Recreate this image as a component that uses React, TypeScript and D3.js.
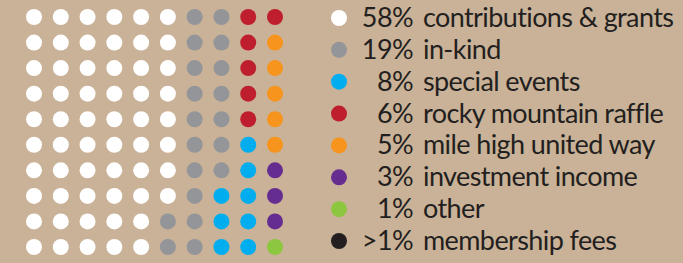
import React, { useEffect, useRef } from 'react';
import * as d3 from 'd3';

// legend entries, in legend order
const categories = ['contributions', 'inkind', 'events', 'raffle', 'unitedway', 'investment', 'other', 'membership'];
const percents = ['58%', '19%', '8%', '6%', '5%', '3%', '1%', '>1%'];
const names = ['contributions & grants', 'in-kind', 'special events', 'rocky mountain raffle', 'mile high united way', 'investment income', 'other', 'membership fees'];
const colors = ['#ffffff', '#939598', '#00aeef', '#be1e2d', '#f7941d', '#662d91', '#8dc63f', '#231f20'];

// 10x10 waffle, each row lists category index per column
const grid = [
  [0, 0, 0, 0, 0, 0, 1, 1, 3, 3],
  [0, 0, 0, 0, 0, 0, 1, 1, 3, 4],
  [0, 0, 0, 0, 0, 0, 1, 1, 3, 4],
  [0, 0, 0, 0, 0, 0, 1, 1, 3, 4],
  [0, 0, 0, 0, 0, 0, 1, 1, 3, 4],
  [0, 0, 0, 0, 0, 0, 1, 1, 2, 4],
  [0, 0, 0, 0, 0, 0, 1, 1, 2, 5],
  [0, 0, 0, 0, 0, 0, 1, 2, 2, 5],
  [0, 0, 0, 0, 0, 1, 1, 2, 2, 5],
  [0, 0, 0, 0, 0, 1, 1, 2, 2, 6],
];

export default function App() {
  const svgRef = useRef<SVGSVGElement>(null);

  useEffect(() => {
    const W = 683, H = 263;
    const svg = d3.select(svgRef.current);
    svg.selectAll('*').remove();

    svg.append('rect').attr('width', W).attr('height', H).attr('fill', '#c9b297');

    const x = d3.scalePoint<number>().domain(d3.range(10)).range([34, 275]);
    const y = d3.scalePoint<number>().domain(d3.range(10)).range([17, 247]);
    const color = d3.scaleOrdinal<number, string>().domain(d3.range(categories.length)).range(colors);

    const cells = grid.flatMap((row, r) => row.map((c, col) => ({ r, col, c })));

    svg.append('g')
      .selectAll('circle')
      .data(cells)
      .enter().append('circle')
      .attr('cx', d => x(d.col) || 0)
      .attr('cy', d => y(d.r) || 0)
      .attr('r', 8)
      .attr('fill', d => color(d.c));

    const ly = d3.scalePoint<number>().domain(d3.range(categories.length)).range([18, 241]);

    const legend = svg.append('g')
      .selectAll('g')
      .data(categories.map((k, i) => ({ k, i })))
      .enter().append('g')
      .attr('transform', d => `translate(0,${ly(d.i)})`);

    legend.append('circle')
      .attr('cx', 339)
      .attr('r', 8)
      .attr('fill', d => color(d.i));

    const font = (sel: d3.Selection<SVGTextElement, any, any, any>) => sel
      .attr('y', 9)
      .attr('font-family', 'Lato, sans-serif')
      .attr('font-size', 27)
      .attr('letter-spacing', -0.6)
      .style('font-variant-ligatures', 'none')
      .attr('fill', '#231f20');

    legend.append('text')
      .attr('x', 413)
      .attr('text-anchor', 'end')
      .call(font)
      .text(d => percents[d.i]);

    legend.append('text')
      .attr('x', 423)
      .call(font)
      .text(d => names[d.i]);
  }, []);

  return (
    <div style={{ position: 'absolute', top: 0, left: 0 }}>
      <svg ref={svgRef} width={683} height={263} style={{ display: 'block' }}></svg>
    </div>
  );
}
